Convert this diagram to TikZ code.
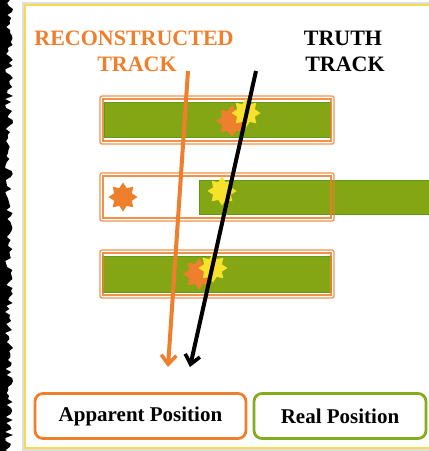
\documentclass[tikz,border=0pt]{standalone}
\usepackage{fontspec}
\setmainfont{Liberation Serif}
\usetikzlibrary{shapes.geometric,arrows.meta}
\definecolor{frameyellow}{HTML}{F6DC4C}
\definecolor{trkorange}{HTML}{EE7F2D}
\definecolor{barfill}{HTML}{84A514}
\definecolor{barline}{HTML}{5C9A1C}
\definecolor{staryellow}{HTML}{F6E12B}
\definecolor{realgreen}{HTML}{86AC1E}
\tikzset{
  greenbar/.style={fill=barfill, draw=barline, line width=1pt, inner sep=0pt, minimum height=35pt},
  outerframe/.style={draw=trkorange, draw opacity=0.85, line width=1.3pt, rounded corners=2pt, inner sep=0pt, minimum width=234pt, minimum height=48pt},
  innerframe/.style={draw=trkorange, draw opacity=0.85, line width=1.2pt, inner sep=0pt, minimum width=228pt, minimum height=42pt},
  hitstar/.style={star, star points=8, star point ratio=1.5, inner sep=0pt, draw=none},
  ostar/.style={hitstar, fill=trkorange, minimum size=25pt},
  ystar/.style={hitstar, fill=staryellow, minimum size=23pt},
  title/.style={font=\fontsize{22}{26}\selectfont\bfseries, anchor=base, inner sep=0pt},
  legendbox/.style={rounded corners=8pt, line width=2.8pt, fill=white, inner sep=0pt, minimum height=45pt, font=\fontsize{21}{25}\selectfont\bfseries},
  trk/.style={line width=4pt, -{Straight Barb[length=9pt,width=15pt,line width=3.6pt]}},
}
\begin{document}
\begin{tikzpicture}[x=1pt,y=-1pt]
\useasboundingbox (0,0) rectangle (429,451);
\fill[white] (0,0) rectangle (429,451);
% left ragged black strip
\pgfmathsetseed{7}
\fill[black] (0,0) foreach \yy in {0,3,...,453} { -- ({9+4*rand},\yy)} -- (0,451) -- cycle;
% shadow + yellow frame
\draw[gray!25, line width=2pt] (23,3) rectangle (445,450);
\draw[frameyellow, line width=2.2pt] (25,5) rectangle (445,448);

% titles
\node[title, text=trkorange] (rt1) at (134,45) {RECONSTRUCTED};
\node[title, text=trkorange] (rt2) at (137,71) {TRACK};
\node[title, text=black] (tt1) at (343,45) {TRUTH};
\node[title, text=black] (tt2) at (345,71) {TRACK};

% bar 1
\node[greenbar, minimum width=226pt] (g1) at (217,120) {};
\node[outerframe] (o1) at (217,120) {};
\node[innerframe] (i1) at (217,120) {};
% bar 2
\node[greenbar, minimum width=240pt, minimum height=34pt, anchor=west] (g2) at (199,197) {};
\node[outerframe] (o2) at (217,197) {};
\node[innerframe] (i2) at (217,197) {};
% bar 3
\node[greenbar, minimum width=229pt, minimum height=36pt] (g3) at (217,274) {};
\node[outerframe] (o3) at (217,274) {};
\node[innerframe] (i3) at (217,274) {};

% stars
\node[ostar, minimum size=32pt] (s1o) at (232,121) {};
\node[ystar, minimum size=29pt] (s1y) at (246,113) {};
\node[ostar, minimum size=29pt] (s2o) at (123,197) {};
\node[ystar, minimum size=29pt] (s2y) at (222,191) {};
\node[ostar, minimum size=32pt] (s3o) at (199,274) {};
\node[ystar, minimum size=29pt] (s3y) at (213,268) {};

% tracks
\coordinate (rtop) at (188,71);
\coordinate (rbot) at (168,367);
\coordinate (ttop) at (256,71);
\coordinate (tbot) at (190,367);
\draw[trk, trkorange] (rtop) -- (rbot);
\draw[trk, black] (ttop) -- (tbot);

% legend
\node[legendbox, draw=trkorange, minimum width=211pt] (app) at (140.5,416) {Apparent Position};
\node[legendbox, draw=realgreen, minimum width=172pt] (real) at (340,416) {Real Position};
\end{tikzpicture}
\end{document}
